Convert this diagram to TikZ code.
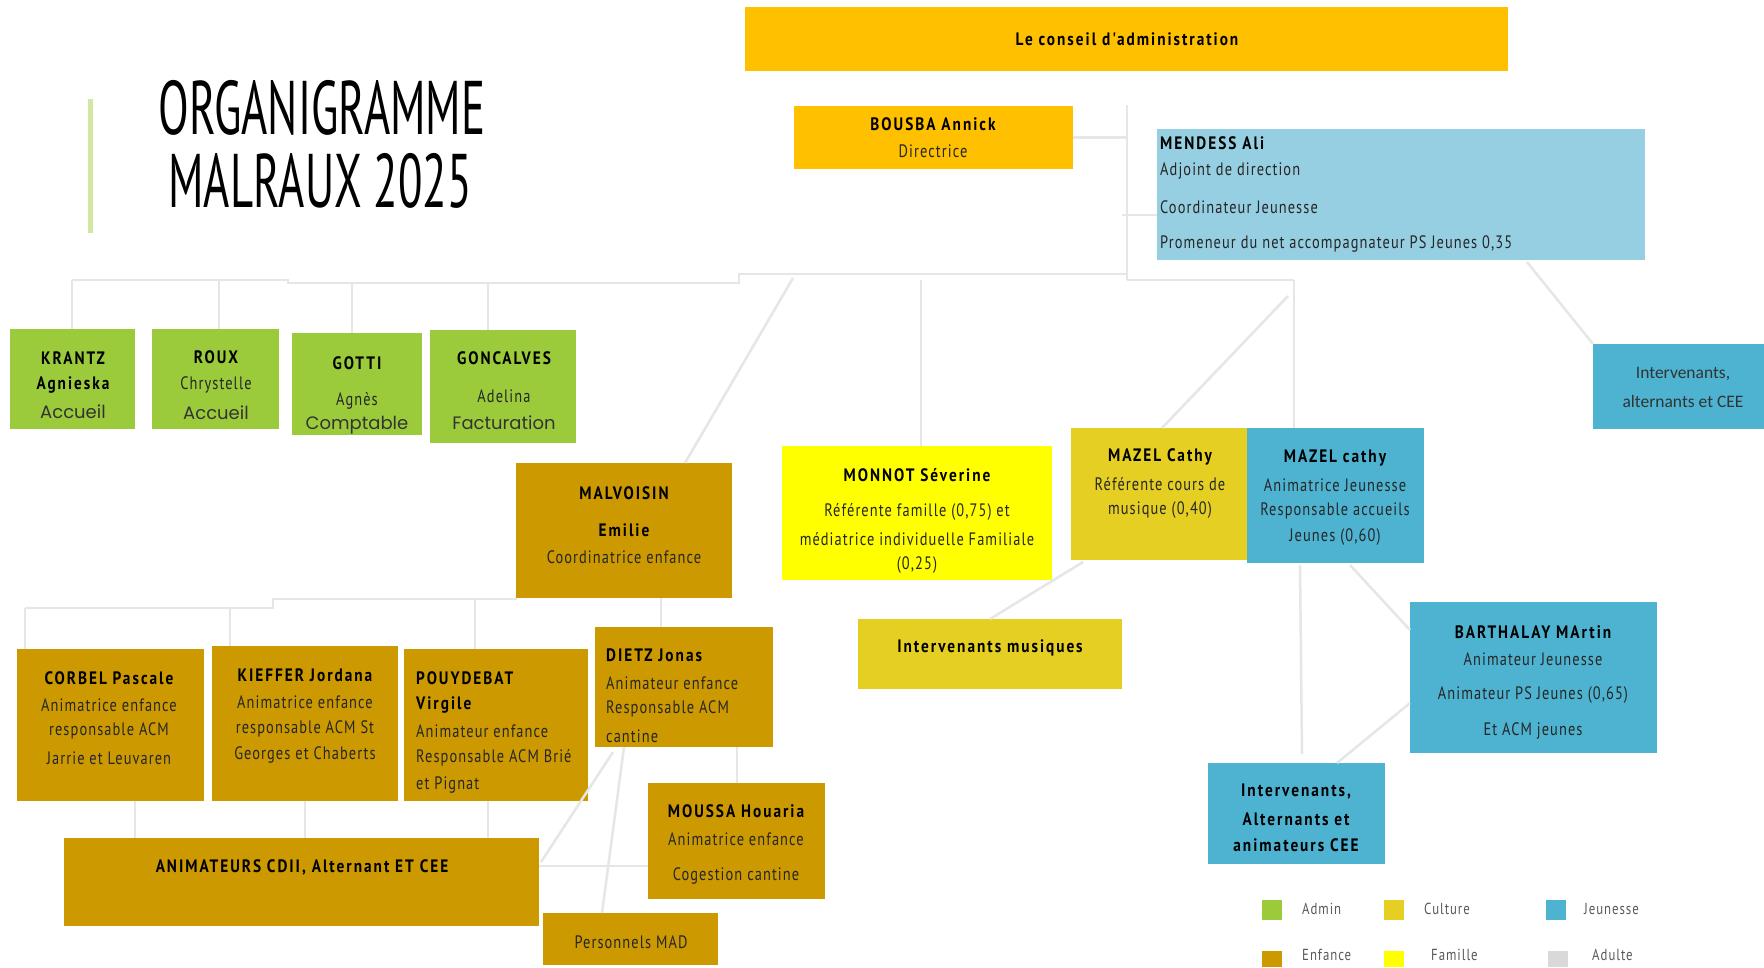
\documentclass[tikz,border=0pt]{standalone}
\usepackage{fontspec}
\setmainfont{PT Sans}
\newfontfamily\tw[FakeStretch=0.8,LetterSpace=6]{PT Sans}
\newfontfamily\twb[FakeStretch=0.85,LetterSpace=11]{PT Sans Bold}
\newfontfamily\ttl[FakeStretch=0.59]{PT Sans}
\newfontfamily\gothic{Poppins}
\newfontfamily\calib{Carlito}
\usetikzlibrary{calc}
\definecolor{gold}{HTML}{FFC000}
\definecolor{mblue}{HTML}{96CFE2}
\definecolor{admin}{HTML}{9BCB3B}
\definecolor{enf}{HTML}{CC9900}
\definecolor{fam}{HTML}{FFFF00}
\definecolor{cult}{HTML}{E5CF22}
\definecolor{jeun}{HTML}{4DB3D1}
\definecolor{adul}{HTML}{D9D9D9}
\definecolor{lineg}{HTML}{E6E6E6}
\definecolor{bar}{HTML}{D2E8A2}
\definecolor{legt}{HTML}{595959}
\begin{document}
\begin{tikzpicture}[x=1pt,y=-1pt,
  box/.style={anchor=north west,inner sep=0pt,outer sep=0pt},
  conn/.style={draw=lineg,line width=2.5pt},
  txt/.style={inner sep=0pt,text=black!85,font=\tw\fontsize{18}{22}\selectfont,align=center},
  nm/.style={inner sep=0pt,text=black,font=\twb\fontsize{18}{22}\selectfont,align=center},
  big/.style={inner sep=0pt,text=black!80,font=\gothic\fontsize{18}{22}\selectfont},
  leg/.style={inner sep=0pt,text=legt,font=\tw\fontsize{16}{18}\selectfont,anchor=west}]
\useasboundingbox (0,0) rectangle (1764,967);
\fill[white] (0,0) rectangle (1764,967);

% title
\fill[bar] (88,99) rectangle (93,233);
\node[inner sep=0pt,font=\ttl\fontsize{76}{80}\selectfont] (t1) at (322,108) {ORGANIGRAMME};
\node[inner sep=0pt,font=\ttl\fontsize{76}{80}\selectfont] (t2) at (320,181) {MALRAUX 2025};

% connectors (drawn first)
\coordinate (vtop) at (1127,105);
\coordinate (vbot) at (1127,280);
\draw[conn] (vtop) -- (vbot);
\coordinate (busL) at (72,280);
\coordinate (busM) at (739,283);
\draw[conn] (busL) -- (288,280) -- (288,283) -- (busM) -- (739,274) -- (1127,274);
\coordinate (busR) at (1294,280);
\draw[conn] (vbot) -- (busR);
\coordinate (bus2L) at (25,608);
\draw[conn] (bus2L) -- (273,608) -- (273,599) -- (517,599);

% boxes
\node[box,fill=gold,minimum width=763pt,minimum height=64pt] (conseil) at (745,7) {};
\node[box,fill=gold,minimum width=279pt,minimum height=63pt] (bousba) at (794,106) {};
\node[box,fill=mblue,minimum width=488pt,minimum height=131pt] (mendess) at (1157,129) {};

\node[box,fill=admin,minimum width=125pt,minimum height=100pt] (krantz) at (10,329) {};
\node[box,fill=admin,minimum width=127pt,minimum height=100pt] (roux) at (152,329) {};
\node[box,fill=admin,minimum width=130pt,minimum height=102pt] (gotti) at (292,333) {};
\node[box,fill=admin,minimum width=146pt,minimum height=113pt] (gonc) at (430,330) {};

\node[box,fill=enf,minimum width=216pt,minimum height=135pt] (malv) at (516,463) {};
\node[box,fill=fam,minimum width=270pt,minimum height=134pt] (monnot) at (782,446) {};
\node[box,fill=cult,minimum width=176pt,minimum height=132pt] (mazelc) at (1071,428) {};
\node[box,fill=jeun,minimum width=177pt,minimum height=135pt] (mazelj) at (1247,428) {};
\node[box,fill=jeun,minimum width=171pt,minimum height=85pt] (intr) at (1593,344) {};
\node[box,fill=cult,minimum width=264pt,minimum height=70pt] (intmus) at (858,619) {};
\node[box,fill=jeun,minimum width=247pt,minimum height=151pt] (barth) at (1410,602) {};
\node[box,fill=jeun,minimum width=177pt,minimum height=101pt] (intalt) at (1208,763) {};

\node[box,fill=enf,minimum width=187pt,minimum height=152pt] (corbel) at (17,649) {};
\node[box,fill=enf,minimum width=186pt,minimum height=155pt] (kieffer) at (212,646) {};
\node[box,fill=enf,minimum width=184pt,minimum height=152pt] (pouy) at (404,649) {};
\node[box,fill=enf,minimum width=178pt,minimum height=120pt] (dietz) at (595,627) {};
\node[box,fill=enf,minimum width=177pt,minimum height=116pt] (moussa) at (648,783) {};
\node[box,fill=enf,minimum width=475pt,minimum height=88pt] (anim) at (64,838) {};
\node[box,fill=enf,minimum width=175pt,minimum height=52pt] (mad) at (543,913) {};

% connectors to boxes
\draw[conn] (bousba.east) -- (vtop |- bousba.east);
\draw[conn] (1122,215) -- (mendess.west |- 0,215);
\draw[conn] (busL) -- (busL |- krantz.north);
\draw[conn] (219,280) -- (219,329);
\draw[conn] (352,283) -- (352,333);
\draw[conn] (488,283) -- (488,330);
\draw[conn] (793,278) -- (685,463);
\draw[conn] (921,280) -- (921,446);
\draw[conn] (busR) -- (busR |- mazelj.north);
\draw[conn] (1288,296) -- (1162,428);
\draw[conn] (1527,262) -- (intr.north west);
\draw[conn] (1083,562) -- (990,619);
\draw[conn] (1350,565) -- (1410,630);
\draw[conn] (1300,565) -- (1302,754);
\draw[conn] (1410,703) -- (1337,763);
\draw[conn] (bus2L) -- (25,649);
\draw[conn] (230,608) -- (230,646);
\draw[conn] (475,599) -- (475,649);
\draw[conn] (661,598) -- (661,627);
\draw[conn] (135,801) -- (135,838);
\draw[conn] (305,801) -- (305,838);
\draw[conn] (488,801) -- (488,838);
\draw[conn] (737,747) -- (737,783);
\draw[conn] (613,752) -- (541,862);
\draw[conn] (624,747) -- (602,913);
\draw[conn] (anim.east |- 0,866) -- (moussa.west |- 0,866);

% texts
\node[nm] at (1127,39) {Le conseil d'administration};
\node[nm] at (933,124) {BOUSBA Annick};
\node[txt] at (933,151) {Directrice};
\node[nm,anchor=west] at (1160,143) {MENDESS Ali};
\node[txt,anchor=west] at (1160,171) {Adjoint de direction};
\node[txt,anchor=west] at (1160,207) {Coordinateur  Jeunesse};
\node[txt,anchor=west] at (1160,244) {Promeneur du net accompagnateur  PS Jeunes 0,35};

\node[nm] at (73,358) {KRANTZ};
\node[nm] at (73,385) {Agnieska};
\node[big] at (73,412) {Accueil};
\node[nm] at (216,357) {ROUX};
\node[txt] at (216,385) {Chrystelle};
\node[big] at (216,413) {Accueil};
\node[nm] at (357,363) {GOTTI};
\node[txt] at (357,401) {Agnès};
\node[big] at (357,425) {Comptable};
\node[nm] at (504,358) {GONCALVES};
\node[txt] at (504,396) {Adelina};
\node[big] at (504,423) {Facturation};

\node[nm] at (624,493) {MALVOISIN};
\node[nm] at (624,530) {Emilie};
\node[txt] at (624,557) {Coordinatrice  enfance};

\node[nm] at (917,475) {MONNOT Séverine};
\node[txt] at (917,512) {Référente famille (0,75) et};
\node[txt] at (917,539) {médiatrice individuelle  Familiale};
\node[txt] at (917,565) {(0,25)};

\node[nm] at (1160,457) {MAZEL Cathy};
\node[txt] at (1160,484) {Référente cours de};
\node[txt] at (1160,510) {musique (0,40)};

\node[nm] at (1335,458) {MAZEL cathy};
\node[txt] at (1335,485) {Animatrice Jeunesse};
\node[txt] at (1335,511) {Responsable  accueils};
\node[txt] at (1335,537) {Jeunes (0,60)};

\node[inner sep=0pt,font=\calib\fontsize{17.5}{20}\selectfont,text=black!80] at (1683,374) {Intervenants,};
\node[inner sep=0pt,font=\calib\fontsize{17.5}{20}\selectfont,text=black!80] at (1683,401) {alternants et CEE};

\node[nm] at (990,648) {Intervenants  musiques};

\node[nm] at (1533,632) {BARTHALAY MArtin};
\node[txt] at (1533,659) {Animateur  Jeunesse};
\node[txt] at (1533,695) {Animateur PS Jeunes (0,65)};
\node[txt] at (1533,731) {Et ACM jeunes};

\node[nm] at (1296,792) {Intervenants,};
\node[nm] at (1296,819) {Alternants  et};
\node[nm] at (1296,845) {animateurs  CEE};

\node[nm] at (109,678) {CORBEL Pascale};
\node[txt] at (109,705) {Animatrice enfance};
\node[txt] at (109,731) {responsable  ACM};
\node[txt] at (109,758) {Jarrie et Leuvaren};

\node[nm] at (305,675) {KIEFFER Jordana};
\node[txt] at (305,702) {Animatrice enfance};
\node[txt] at (305,729) {responsable  ACM St};
\node[txt] at (305,755) {Georges et Chaberts};

\node[nm,anchor=west] at (416,678) {POUYDEBAT};
\node[nm,anchor=west] at (416,705) {Virgile};
\node[txt,anchor=west] at (416,731) {Animateur enfance};
\node[txt,anchor=west] at (416,758) {Responsable  ACM Brié};
\node[txt,anchor=west] at (416,785) {et Pignat};

\node[nm,anchor=west] at (606,655) {DIETZ Jonas};
\node[txt,anchor=west] at (606,683) {Animateur enfance};
\node[txt,anchor=west] at (606,709) {Responsable  ACM};
\node[txt,anchor=west] at (606,736) {cantine};

\node[nm] at (736,811) {MOUSSA Houaria};
\node[txt] at (736,839) {Animatrice enfance};
\node[txt] at (736,876) {Cogestion  cantine};

\node[nm] at (302,867) {ANIMATEURS CDII, Alternant  ET CEE};
\node[txt] at (631,942) {Personnels  MAD};

% legend
\node[box,fill=admin,minimum width=20pt,minimum height=20pt] (lg1) at (1262,900) {};
\node[box,fill=cult,minimum width=20pt,minimum height=20pt] (lg2) at (1384,900) {};
\node[box,fill=jeun,minimum width=20pt,minimum height=20pt] (lg3) at (1546,900) {};
\node[box,fill=enf,minimum width=20pt,minimum height=16pt] (lg4) at (1262,951) {};
\node[box,fill=fam,minimum width=20pt,minimum height=16pt] (lg5) at (1384,951) {};
\node[box,fill=adul,minimum width=20pt,minimum height=16pt] (lg6) at (1548,951) {};
\node[leg] at (1302,909) {Admin};
\node[leg] at (1424,909) {Culture};
\node[leg] at (1584,909) {Jeunesse};
\node[leg] at (1302,955) {Enfance};
\node[leg] at (1431,955) {Famille};
\node[leg] at (1592,955) {Adulte};
\end{tikzpicture}
\end{document}
